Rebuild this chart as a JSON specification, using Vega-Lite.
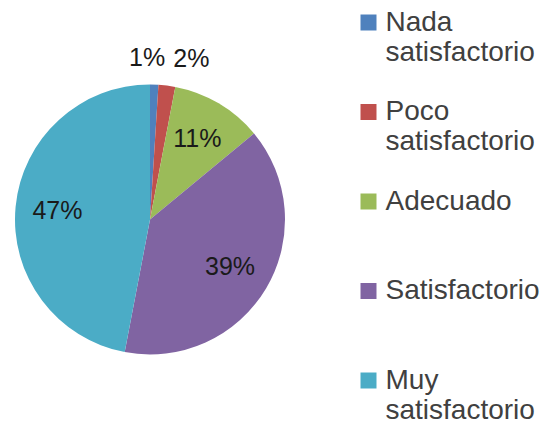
{
  "$schema": "https://vega.github.io/schema/vega-lite/v6.json",
  "width": 300,
  "height": 431,
  "padding": {"left": 0, "top": 4, "right": 0, "bottom": 0},
  "autosize": {"type": "pad"},
  "background": "white",
  "data": {
    "values": [
      {"cat": "Nada satisfactorio", "pct": 0.01, "orden": 1},
      {"cat": "Poco satisfactorio", "pct": 0.02, "orden": 2},
      {"cat": "Adecuado", "pct": 0.11, "orden": 3},
      {"cat": "Satisfactorio", "pct": 0.39, "orden": 4},
      {"cat": "Muy satisfactorio", "pct": 0.47, "orden": 5}
    ]
  },
  "encoding": {
    "theta": {"field": "pct", "type": "quantitative", "stack": true},
    "order": {"field": "orden", "type": "quantitative"}
  },
  "layer": [
    {
      "mark": {"type": "arc", "outerRadius": 135},
      "encoding": {
        "color": {
          "field": "cat",
          "type": "nominal",
          "scale": {
            "domain": ["Nada satisfactorio", "Poco satisfactorio", "Adecuado", "Satisfactorio", "Muy satisfactorio"],
            "range": ["#4F81BD", "#C0504D", "#9BBB59", "#8064A2", "#4BACC6"]
          },
          "legend": {
            "title": null,
            "orient": "right",
            "offset": 49.5,
            "padding": 4.5,
            "symbolType": "square",
            "symbolSize": 256,
            "symbolStrokeWidth": 0,
            "symbolOpacity": 1,
            "labelFont": "Liberation Sans",
            "labelFontSize": 28,
            "labelColor": "#404040",
            "labelLimit": 300,
            "labelOffset": 3,
            "labelLineHeight": 33,
            "rowPadding": 31.5,
            "labelExpr": "length(split(datum.label, ' ')) > 1 ? split(datum.label, ' ') : [datum.label, ' ']"
          }
        }
      }
    },
    {
      "mark": {
        "type": "text",
        "radius": {"expr": "datum.pct < 0.05 ? 162 : 93"},
        "dx": {"expr": "datum.pct == 0.01 ? -8 : datum.pct == 0.02 ? 21 : 0"},
        "font": "Liberation Sans",
        "fontSize": 25,
        "color": "#1a1a1a"
      },
      "encoding": {
        "text": {"field": "pct", "type": "quantitative", "format": ".0%"},
        "detail": {"field": "cat", "type": "nominal"}
      }
    }
  ],
  "config": {"view": {"stroke": null}}
}
